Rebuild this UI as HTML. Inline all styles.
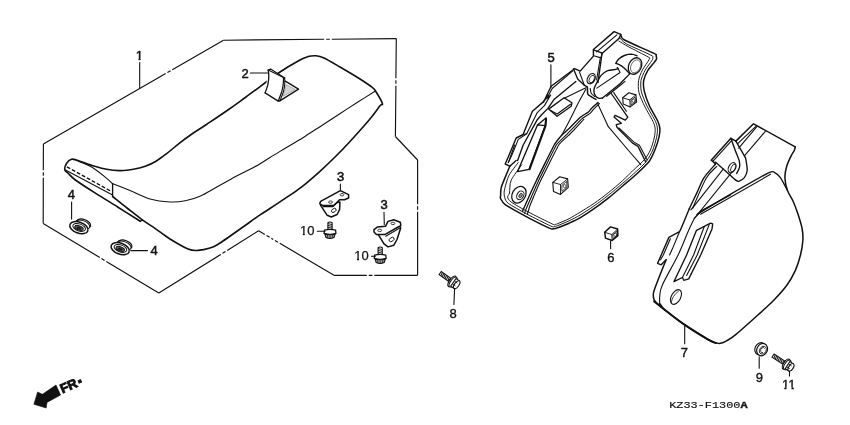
<!DOCTYPE html>
<html><head><meta charset="utf-8"><title>Seat / Side Cover</title>
<style>html,body{margin:0;padding:0;background:#fff;}svg{display:block;will-change:transform}</style>
</head><body>
<svg width="850" height="425" viewBox="0 0 850 425">
<rect width="850" height="425" fill="#fff"/>
<path d="M43.4,144.0 L165.7,73.5 M167.4,72.5 L170.6,70.7 M172.3,69.7 L223.5,40.2 " fill="none" stroke="#111" stroke-width="1.15" stroke-linecap="butt"/>
<path d="M223.5,40.2 L324.2,39.3 M326.2,39.2 L329.8,39.2 M331.8,39.2 L396.3,38.6 " fill="none" stroke="#111" stroke-width="1.15" stroke-linecap="butt"/>
<path d="M396.3,38.6 L395.9,78.2 M395.9,80.2 L395.9,83.8 M395.9,85.8 L395.4,136.5 " fill="none" stroke="#111" stroke-width="1.15" stroke-linecap="butt"/>
<path d="M395.4,136.5 L417.6,160.0 " fill="none" stroke="#111" stroke-width="1.15" stroke-linecap="butt"/>
<path d="M417.6,160.0 L417.6,204.2 M417.6,206.2 L417.6,209.8 M417.6,211.8 L417.6,275.3 " fill="none" stroke="#111" stroke-width="1.15" stroke-linecap="butt"/>
<path d="M417.6,275.3 L374.4,275.3 M372.4,275.3 L368.8,275.3 M366.8,275.3 L334.0,275.3 " fill="none" stroke="#111" stroke-width="1.15" stroke-linecap="butt"/>
<path d="M334.0,275.3 L279.8,243.3 M278.1,242.3 L275.0,240.5 M273.2,239.4 L271.3,238.3 M269.6,237.3 L266.5,235.4 M264.8,234.4 L258.6,230.8 " fill="none" stroke="#111" stroke-width="1.15" stroke-linecap="butt"/>
<path d="M258.6,230.8 L227.2,250.4 M225.5,251.4 L222.5,253.3 M220.8,254.4 L158.8,293.0 " fill="none" stroke="#111" stroke-width="1.15" stroke-linecap="butt"/>
<path d="M158.8,293.0 L106.3,261.4 M104.6,260.4 L101.5,258.5 M99.8,257.5 L43.2,223.5 " fill="none" stroke="#111" stroke-width="1.15" stroke-linecap="butt"/>
<path d="M43.2,223.5 L43.3,177.8 M43.3,175.8 L43.3,172.2 M43.3,170.2 L43.4,144.0 " fill="none" stroke="#111" stroke-width="1.15" stroke-linecap="butt"/>
<path d="M112.6,196.5 C115.0,198.4 122.1,204.2 127.0,208.0 C131.9,211.8 137.3,216.2 142.0,219.6 C146.7,223.0 150.3,225.2 155.0,228.4 C159.7,231.6 164.5,235.6 170.0,239.0 C175.5,242.4 183.3,247.1 188.0,249.0 C192.7,250.9 194.3,250.6 198.0,250.4 C201.7,250.2 206.3,249.2 210.0,248.0 C213.7,246.8 213.3,247.3 220.0,243.0 C226.7,238.7 243.1,226.8 250.0,222.0 C256.9,217.2 255.5,218.0 261.2,214.2 C266.9,210.4 277.3,203.7 284.1,199.1 C290.9,194.5 295.9,191.4 301.8,186.8 C307.7,182.2 313.8,176.8 319.4,171.8 C325.0,166.8 330.2,161.9 335.3,156.8 C340.4,151.8 344.4,147.6 350.0,141.5 C355.6,135.4 363.9,126.2 368.9,120.3 C373.9,114.3 377.8,108.6 380.0,105.8 C382.2,103.0 383.1,105.7 382.3,103.2 C381.6,100.7 377.2,93.7 375.5,91.0 C373.8,88.3 374.6,89.2 372.0,87.2 C369.4,85.2 365.3,82.4 360.0,79.0 C354.7,75.6 346.0,70.5 340.0,67.0 C334.0,63.5 328.0,59.9 324.0,58.0 C320.0,56.1 318.7,56.0 316.0,55.8 C313.3,55.6 310.7,55.9 308.0,56.6 C305.3,57.3 304.7,57.4 300.0,60.0 C295.3,62.6 289.0,65.8 280.0,72.0 C271.0,78.2 254.7,90.7 246.0,97.0 C237.3,103.3 234.5,105.4 227.9,110.0 C221.3,114.6 212.6,120.4 206.5,124.5 C200.4,128.6 195.8,131.3 191.2,134.5 C186.6,137.7 183.0,140.4 178.9,143.6 C174.8,146.8 170.5,150.7 166.7,153.6 C162.9,156.5 159.6,159.1 156.0,161.2 C152.4,163.3 148.9,165.0 145.3,166.3 C141.8,167.6 138.8,168.3 134.7,169.0 C130.6,169.7 125.3,170.5 120.6,170.6 C115.9,170.7 111.3,170.2 106.5,169.3 C101.7,168.5 96.8,166.9 92.0,165.5 C87.2,164.1 81.4,161.7 78.0,160.6 C74.6,159.5 73.4,158.7 71.5,159.2 C69.6,159.7 67.6,161.7 66.5,163.5 C65.4,165.3 64.5,168.1 64.8,169.8 C65.1,171.5 66.7,171.9 68.5,173.6 C70.3,175.3 71.0,176.8 75.4,180.0 C79.8,183.2 87.9,188.4 95.0,192.9 C102.1,197.4 110.5,202.5 118.0,207.2 C125.5,211.9 136.6,218.9 140.3,221.2" fill="none" stroke="#111" stroke-width="1.60" stroke-linejoin="round" stroke-linecap="round" />
<path d="M140.3,221.2 L142.6,220.2" fill="none" stroke="#111" stroke-width="1.20" stroke-linejoin="round" stroke-linecap="round" />
<path d="M375.5,91.0 C372.6,92.8 364.1,98.1 358.3,101.8 C352.5,105.5 346.5,109.4 340.6,113.2 C334.7,117.0 328.9,120.9 323.0,124.7 C317.1,128.5 311.2,132.5 305.3,136.2 C299.4,139.9 293.6,143.2 287.7,146.8 C281.8,150.4 275.0,154.4 270.0,157.5 C265.0,160.6 261.6,162.9 257.7,165.2 C253.8,167.4 250.9,168.7 246.5,171.0 C242.1,173.3 236.3,176.2 231.2,179.0 C226.1,181.8 221.0,184.7 215.9,187.5 C210.8,190.3 205.7,193.7 200.6,195.9 C195.5,198.1 190.4,199.8 185.3,200.8 C180.2,201.8 175.9,202.3 170.0,202.0 C164.1,201.7 156.7,200.9 150.0,199.0 C143.3,197.1 136.2,193.0 130.0,190.5 C123.8,188.0 115.7,184.9 112.8,183.8" fill="none" stroke="#111" stroke-width="1.10" stroke-linejoin="round" stroke-linecap="round" />
<path d="M78.2,161.2 C80.6,162.2 87.6,164.7 92.4,167.5 C97.1,170.4 103.1,175.4 106.5,178.1 C109.9,180.9 111.8,183.1 112.8,184.0" fill="none" stroke="#111" stroke-width="1.10" stroke-linejoin="round" stroke-linecap="round" />
<path d="M112.6,183.6 L112.6,196.5" fill="none" stroke="#111" stroke-width="1.35" stroke-linejoin="round" stroke-linecap="round" />
<path d="M66.9,166.8 L111.4,191.5" fill="none" stroke="#111" stroke-width="1.35" stroke-linejoin="round" stroke-dasharray="3.8 1.9" stroke-linecap="butt"/>
<path d="M65.5,170.1 L112.1,194.8" fill="none" stroke="#111" stroke-width="1.10" stroke-linejoin="round" stroke-linecap="round" />
<path d="M268.2,70.1 L270.6,69.1 L284.7,77.9 L285.3,81.1 L298.5,89.1 L279.4,101.1 L265.1,92.9 Z" fill="#fff" stroke="none"/>
<path d="M268.2,70.1 C268.3,71.1 268.9,73.8 268.8,76.2 C268.8,78.6 268.5,81.6 267.9,84.4 C267.3,87.2 265.5,91.5 265.1,92.9" fill="none" stroke="#111" stroke-width="1.30" stroke-linejoin="round" stroke-linecap="round" />
<path d="M265.1,92.9 L278.2,101.1" fill="none" stroke="#111" stroke-width="1.30" stroke-linejoin="round" stroke-linecap="round" />
<path d="M268.2,70.1 L270.6,69.1 L284.7,77.9" fill="none" stroke="#111" stroke-width="1.20" stroke-linejoin="round" stroke-linecap="round" />
<path d="M268.2,70.1 L283.5,77.6" fill="none" stroke="#111" stroke-width="1.10" stroke-linejoin="round" stroke-linecap="round" />
<path d="M283.5,77.6 C283.5,78.7 283.5,82.1 283.2,84.4 C282.9,86.7 282.6,88.7 281.8,91.5 C280.9,94.3 278.8,99.5 278.2,101.1" fill="none" stroke="#111" stroke-width="1.20" stroke-linejoin="round" stroke-linecap="round" />
<path d="M284.7,77.9 C284.7,79.0 284.9,82.2 284.7,84.4 C284.5,86.7 284.3,88.8 283.5,91.5 C282.7,94.2 280.6,99.1 280.0,100.6" fill="none" stroke="#111" stroke-width="1.10" stroke-linejoin="round" stroke-linecap="round" />
<path d="M285.3,81.1 L298.5,89.1 L279.4,101.1" fill="none" stroke="#111" stroke-width="1.35" stroke-linejoin="round" stroke-linecap="round" />
<path d="M286.2,84.6 L295.3,89.4 L283.2,96.2 Z" fill="#d4d4d4" stroke="#777" stroke-width="0.5"/>
<text x="245.2" y="77.6" font-size="13" font-weight="normal" text-anchor="middle" font-family='"Liberation Sans", sans-serif' fill="#111" stroke="#111" stroke-width="0.45">2</text>
<path d="M250.3,73.0 L267.6,73.0" fill="none" stroke="#111" stroke-width="1.10" stroke-linejoin="round" stroke-linecap="round" />
<clipPath id="k1"><rect x="134.68" y="47.00" width="9.23" height="11.03"/><rect x="138.48" y="57.73" width="2.07" height="2.88"/></clipPath>
<text x="139.3" y="60.0" font-size="13" font-weight="normal" text-anchor="middle" font-family='"Liberation Sans", sans-serif' fill="#111" stroke="#111" stroke-width="0.45" clip-path="url(#k1)">1</text>
<path d="M139.7,62.5 L139.7,88.0" fill="none" stroke="#111" stroke-width="1.10" stroke-linejoin="round" stroke-linecap="round" />
<g transform="translate(79.9,226.0) rotate(20)" fill="#fff" stroke="#111"><ellipse cx="2.6" cy="-3.6" rx="7.4" ry="4.0" stroke-width="1.3"/><ellipse cx="2.0" cy="-2.0" rx="7.6" ry="4.2" stroke-width="1.0"/><ellipse cx="-0.4" cy="1.9" rx="9.5" ry="5.5" stroke-width="1.5"/><ellipse cx="-0.2" cy="1.6" rx="6.6" ry="3.5" stroke-width="1.0"/><ellipse cx="-0.2" cy="2.1" rx="4.4" ry="2.1" stroke-width="1.0" fill="#666"/><ellipse cx="-0.2" cy="2.4" rx="2.2" ry="0.9" stroke-width="0.8" fill="#222"/></g>
<g transform="translate(121.2,247.0) rotate(20)" fill="#fff" stroke="#111"><ellipse cx="2.6" cy="-3.6" rx="7.4" ry="4.0" stroke-width="1.3"/><ellipse cx="2.0" cy="-2.0" rx="7.6" ry="4.2" stroke-width="1.0"/><ellipse cx="-0.4" cy="1.9" rx="9.5" ry="5.5" stroke-width="1.5"/><ellipse cx="-0.2" cy="1.6" rx="6.6" ry="3.5" stroke-width="1.0"/><ellipse cx="-0.2" cy="2.1" rx="4.4" ry="2.1" stroke-width="1.0" fill="#666"/><ellipse cx="-0.2" cy="2.4" rx="2.2" ry="0.9" stroke-width="0.8" fill="#222"/></g>
<text x="71.4" y="198.6" font-size="13" font-weight="normal" text-anchor="middle" font-family='"Liberation Sans", sans-serif' fill="#111" stroke="#111" stroke-width="0.45">4</text>
<path d="M71.6,202.0 L71.6,219.0" fill="none" stroke="#111" stroke-width="1.10" stroke-linejoin="round" stroke-linecap="round" />
<text x="154.0" y="254.8" font-size="13" font-weight="normal" text-anchor="middle" font-family='"Liberation Sans", sans-serif' fill="#111" stroke="#111" stroke-width="0.45">4</text>
<path d="M130.8,250.6 L147.5,250.6" fill="none" stroke="#111" stroke-width="1.10" stroke-linejoin="round" stroke-linecap="round" />
<path d="M320.6,205.4 L327.2,215.3 L331.3,217.0 L337.1,214.5 L339.6,209.6 L339.9,202.1 Z" fill="#fff" stroke="#111" stroke-width="1.50" stroke-linejoin="round" stroke-linecap="round" />
<path d="M340.4,190.6 L348.6,194.7 L348.6,198.0 L344.5,199.7 L339.6,199.7 L336.3,203.0 L333.8,205.4 L322.3,205.4 L319.8,203.8 L320.6,201.3 Z" fill="#fff" stroke="#111" stroke-width="1.50" stroke-linejoin="round" stroke-linecap="round" />
<path d="M323.1,206.6 L333.0,206.6 L338.2,201.6" fill="none" stroke="#111" stroke-width="1.10" stroke-linejoin="round" stroke-linecap="round" />
<ellipse cx="342.0" cy="194.7" rx="1.9" ry="1.2" fill="#fff" stroke="#111" stroke-width="0.8"/>
<ellipse cx="330.5" cy="202.1" rx="1.9" ry="1.2" fill="#fff" stroke="#111" stroke-width="0.8"/>
<ellipse cx="333.8" cy="210.4" rx="2.6" ry="1.7" transform="rotate(-35 333.8 210.4)" fill="#fff" stroke="#111" stroke-width="0.9"/>
<text x="340.6" y="180.7" font-size="13" font-weight="normal" text-anchor="middle" font-family='"Liberation Sans", sans-serif' fill="#111" stroke="#111" stroke-width="0.55">3</text>
<path d="M340.4,184.0 L340.4,190.6" fill="none" stroke="#111" stroke-width="1.10" stroke-linejoin="round" stroke-linecap="round" />
<path d="M378.1,234.2 L383.8,243.6 L388.0,246.9 L393.7,245.3 L397.0,239.5 L400.7,228.0 L399.5,225.5 Z" fill="#fff" stroke="#111" stroke-width="1.50" stroke-linejoin="round" stroke-linecap="round" />
<path d="M388.0,221.4 L393.7,219.7 L400.3,222.2 L400.8,225.5 L384.7,234.6 L376.4,234.6 L374.0,232.1 L374.0,229.6 L377.3,227.1 L385.5,226.3 Z" fill="#fff" stroke="#111" stroke-width="1.50" stroke-linejoin="round" stroke-linecap="round" />
<path d="M385.7,236.2 L399.8,228.0" fill="none" stroke="#111" stroke-width="1.10" stroke-linejoin="round" stroke-linecap="round" />
<ellipse cx="379.7" cy="230.4" rx="2.0" ry="1.2" fill="#fff" stroke="#111" stroke-width="0.8"/>
<ellipse cx="392.9" cy="223.4" rx="2.0" ry="1.2" fill="#fff" stroke="#111" stroke-width="0.8"/>
<ellipse cx="391.6" cy="239.5" rx="2.8" ry="1.8" transform="rotate(-35 391.6 239.5)" fill="#fff" stroke="#111" stroke-width="0.9"/>
<text x="384.2" y="209.2" font-size="13" font-weight="normal" text-anchor="middle" font-family='"Liberation Sans", sans-serif' fill="#111" stroke="#111" stroke-width="0.55">3</text>
<path d="M384.0,212.3 L384.3,224.7" fill="none" stroke="#111" stroke-width="1.10" stroke-linejoin="round" stroke-linecap="round" />
<g transform="translate(330.0,221.8)" stroke="#111" fill="#fff"><path d="M-2.1,8.5 L-2.1,1 Q0,-0.6 2.1,1 L2.1,8.5 Z" stroke-width="1.1"/><path d="M-2.1,1.8 L2.1,2.8 M-2.1,3.6 L2.1,4.6 M-2.1,5.4 L2.1,6.4 M-2.1,7.2 L2.1,8.2" stroke-width="0.9"/><path d="M-5.6,8.4 Q0,6.6 5.6,8.4 L5.9,11.6 Q0,13.8 -5.9,11.6 Z" stroke-width="1.3"/><path d="M-5.2,12.0 L-4.0,15.8 Q0,17.6 4.0,15.8 L5.2,12.0 Q0,14.0 -5.2,12.0 Z" stroke-width="1.1" fill="#9a9a9a"/><path d="M-2.6,13.2 L-2.2,16.4 M0,13.6 L0,16.9 M2.6,13.2 L2.2,16.4" stroke-width="0.7"/></g>
<g transform="translate(380.2,246.8)" stroke="#111" fill="#fff"><path d="M-2.1,8.5 L-2.1,1 Q0,-0.6 2.1,1 L2.1,8.5 Z" stroke-width="1.1"/><path d="M-2.1,1.8 L2.1,2.8 M-2.1,3.6 L2.1,4.6 M-2.1,5.4 L2.1,6.4 M-2.1,7.2 L2.1,8.2" stroke-width="0.9"/><path d="M-5.6,8.4 Q0,6.6 5.6,8.4 L5.9,11.6 Q0,13.8 -5.9,11.6 Z" stroke-width="1.3"/><path d="M-5.2,12.0 L-4.0,15.8 Q0,17.6 4.0,15.8 L5.2,12.0 Q0,14.0 -5.2,12.0 Z" stroke-width="1.1" fill="#9a9a9a"/><path d="M-2.6,13.2 L-2.2,16.4 M0,13.6 L0,16.9 M2.6,13.2 L2.2,16.4" stroke-width="0.7"/></g>
<clipPath id="k2"><rect x="298.97" y="222.00" width="16.46" height="11.03"/><rect x="302.77" y="232.72" width="2.07" height="2.88"/><rect x="306.90" y="232.72" width="7.83" height="3.68"/></clipPath>
<text x="307.2" y="235.0" font-size="13" font-weight="normal" text-anchor="middle" font-family='"Liberation Sans", sans-serif' fill="#111" stroke="#111" stroke-width="0.25" clip-path="url(#k2)">10</text>
<path d="M317.3,231.3 L325.0,231.3" fill="none" stroke="#111" stroke-width="1.10" stroke-linejoin="round" stroke-linecap="round" />
<clipPath id="k3"><rect x="353.17" y="247.40" width="16.46" height="11.03"/><rect x="356.97" y="258.12" width="2.07" height="2.88"/><rect x="361.10" y="258.12" width="7.83" height="3.68"/></clipPath>
<text x="361.4" y="260.4" font-size="13" font-weight="normal" text-anchor="middle" font-family='"Liberation Sans", sans-serif' fill="#111" stroke="#111" stroke-width="0.25" clip-path="url(#k3)">10</text>
<path d="M371.5,256.3 L375.4,256.3" fill="none" stroke="#111" stroke-width="1.10" stroke-linejoin="round" stroke-linecap="round" />
<path d="M795.2,146.8 C795.1,147.4 794.9,149.1 794.3,150.5 C793.7,151.9 792.9,152.4 791.6,155.0 C790.3,157.6 787.8,162.5 786.7,166.3 C785.6,170.1 784.8,173.6 784.9,177.6 C785.0,181.6 786.0,186.4 787.4,190.3 C788.8,194.2 791.3,197.2 793.0,201.0 C794.7,204.8 796.1,208.5 797.6,213.0 C799.1,217.5 801.1,223.5 802.0,228.0 C802.9,232.5 803.1,235.5 802.9,240.0 C802.6,244.5 801.8,249.9 800.5,255.0 C799.2,260.1 797.5,265.6 795.3,270.6 C793.0,275.6 790.5,280.1 787.0,285.0 C783.5,289.9 778.9,294.9 774.0,300.0 C769.1,305.1 763.9,309.6 757.6,315.3 C751.3,321.0 741.1,330.2 736.0,334.4 C730.9,338.6 729.6,339.1 727.0,340.6 C724.4,342.1 722.6,343.0 720.5,343.3 C718.4,343.6 716.6,343.2 714.5,342.6 C712.4,342.0 712.7,342.3 707.8,339.4 C702.9,336.5 691.8,329.7 685.2,325.2 C678.6,320.7 672.9,316.1 668.2,312.5 C663.5,308.9 659.4,305.7 657.0,303.5 C654.6,301.3 654.6,300.9 654.0,299.5 C653.4,298.1 653.3,296.4 653.3,294.9 C653.3,293.3 653.2,293.1 654.2,290.2 C655.2,287.3 657.0,282.6 659.0,277.5 C661.0,272.4 664.9,262.8 666.1,259.8" fill="none" stroke="#111" stroke-width="1.50" stroke-linejoin="round" stroke-linecap="round" />
<path d="M735.9,141.1 L753.5,123.8 L795.2,146.8" fill="none" stroke="#111" stroke-width="1.50" stroke-linejoin="round" stroke-linecap="round" />
<path d="M735.9,141.1 L730.9,138.3 L711.2,160.2 L715.4,163.7" fill="none" stroke="#111" stroke-width="1.50" stroke-linejoin="round" stroke-linecap="round" />
<path d="M755.6,126.6 L737.7,143.7" fill="none" stroke="#111" stroke-width="1.10" stroke-linejoin="round" stroke-linecap="round" />
<path d="M731.9,140.4 L713.3,160.9" fill="none" stroke="#111" stroke-width="1.10" stroke-linejoin="round" stroke-linecap="round" />
<path d="M730.9,138.3 C731.6,140.3 733.8,146.4 735.2,150.3 C736.6,154.2 738.7,158.7 739.4,161.6 C740.1,164.5 739.9,165.7 739.4,167.7 C738.9,169.7 737.1,172.4 736.6,173.4" fill="none" stroke="#111" stroke-width="1.35" stroke-linejoin="round" stroke-linecap="round" />
<path d="M715.4,162.1 L735.2,179.7" fill="none" stroke="#111" stroke-width="1.35" stroke-linejoin="round" stroke-linecap="round" />
<path d="M735.2,179.7 C735.8,180.0 737.2,181.6 738.7,181.3 C740.2,180.9 742.9,179.4 744.4,177.6 C745.8,175.8 746.9,173.6 747.2,170.5 C747.4,167.5 746.2,161.7 745.8,159.2 C745.3,156.8 746.0,159.0 744.4,155.9 C742.7,152.9 737.3,143.6 735.9,141.1" fill="none" stroke="#111" stroke-width="1.35" stroke-linejoin="round" stroke-linecap="round" />
<path d="M757.1,126.3 L738.7,148.2" fill="none" stroke="#111" stroke-width="1.10" stroke-linejoin="round" stroke-linecap="round" />
<path d="M765.5,131.2 L744.4,155.9" fill="none" stroke="#111" stroke-width="1.10" stroke-linejoin="round" stroke-linecap="round" />
<ellipse cx="732.1" cy="167.7" rx="3.4" ry="5.4" transform="rotate(28 732.1 167.7)" fill="#fff" stroke="#111" stroke-width="1.1"/>
<ellipse cx="733.2" cy="168.0" rx="2.0" ry="4.2" transform="rotate(28 733.2 168.0)" fill="none" stroke="#111" stroke-width="0.8"/>
<path d="M715.4,164.2 C713.5,166.4 707.2,172.9 704.1,177.6 C701.1,182.3 699.4,187.5 697.1,192.4 C694.7,197.4 691.3,204.6 690.0,207.2 C688.7,209.9 689.5,208.2 689.4,208.4" fill="none" stroke="#111" stroke-width="1.40" stroke-linejoin="round" stroke-linecap="round" />
<path d="M689.4,208.4 L680.9,228.9 L679.5,231.7 L668.9,237.4 L661.2,255.0 L657.6,263.4 L661.2,264.8 L666.1,259.8" fill="none" stroke="#111" stroke-width="1.40" stroke-linejoin="round" stroke-linecap="round" />
<path d="M670.4,238.8 L663.3,255.0 L660.5,259.8" fill="none" stroke="#111" stroke-width="1.10" stroke-linejoin="round" stroke-linecap="round" />
<path d="M716.8,166.3 C715.1,168.3 710.2,171.4 706.2,178.3 C702.2,185.2 695.1,203.0 692.8,207.9" fill="none" stroke="#111" stroke-width="1.10" stroke-linejoin="round" stroke-linecap="round" />
<path d="M723.2,169.1 L692.1,208.6 L694.4,205.6 L690.8,209.8" fill="none" stroke="#111" stroke-width="1.10" stroke-linejoin="round" stroke-linecap="round" />
<path d="M730.9,173.4 L697.1,215.0 L700.7,211.2" fill="none" stroke="#111" stroke-width="1.10" stroke-linejoin="round" stroke-linecap="round" />
<path d="M697.1,214.3 C701.2,211.8 724.0,198.0 732.4,193.1 C740.8,188.3 764.1,175.0 769.1,172.6 C774.0,170.3 773.4,172.1 774.7,172.6 C776.0,173.2 778.9,175.5 780.4,177.6 C781.8,179.6 786.6,188.8 787.4,190.3" fill="none" stroke="#111" stroke-width="1.35" stroke-linejoin="round" stroke-linecap="round" />
<path d="M700.6,214.3 L770.5,174.3" fill="none" stroke="#111" stroke-width="1.10" stroke-linejoin="round" stroke-linecap="round" />
<path d="M730.4,195.0 L700.7,211.2 L694.4,218.3" fill="none" stroke="#111" stroke-width="1.35" stroke-linejoin="round" stroke-linecap="round" />
<path d="M694.4,218.3 C693.3,220.5 690.7,225.6 688.0,231.7 C685.3,237.8 682.4,246.2 678.1,255.0 C673.9,263.8 665.6,277.7 662.6,284.5 C659.5,291.3 660.2,292.4 659.8,295.8 C659.3,299.2 659.8,303.7 659.8,305.0 C659.8,306.3 658.9,302.5 659.8,303.4 C660.6,304.3 663.9,309.2 664.7,310.4" fill="none" stroke="#111" stroke-width="1.10" stroke-linejoin="round" stroke-linecap="round" />
<path d="M679.5,231.7 L672.5,248.6 L669.6,255.0" fill="none" stroke="#111" stroke-width="1.10" stroke-linejoin="round" stroke-linecap="round" />
<path d="M710.6,223.2 L696.5,230.3 L686.6,255.0 L673.9,281.7 L682.4,277.5 L683.8,280.3 L688.7,278.9 L700.7,255.0 L712.0,228.9 L712.7,223.9 Z" fill="none" stroke="#111" stroke-width="1.35" stroke-linejoin="round" stroke-linecap="round" />
<path d="M704.2,226.8 L693.6,255.0 L682.4,277.5" fill="none" stroke="#111" stroke-width="1.10" stroke-linejoin="round" stroke-linecap="round" />
<path d="M709.2,224.6 L697.2,255.0 L686.6,275.4" fill="none" stroke="#111" stroke-width="1.10" stroke-linejoin="round" stroke-linecap="round" />
<ellipse cx="676.0" cy="297.0" rx="4.6" ry="8.0" transform="rotate(28 676.0 297.0)" fill="#fff" stroke="#111" stroke-width="1.1"/>
<path d="M671.3,303.1 Q671.8,296.3 678.8,290.9" fill="none" stroke="#111" stroke-width="0.8"/>
<path d="M654.2,301.4 C656.5,303.2 663.0,308.5 668.2,312.5 C673.4,316.5 678.6,320.7 685.2,325.2 C691.8,329.7 702.7,336.4 707.8,339.4 C712.9,342.4 714.6,342.4 716.0,343.0" fill="none" stroke="#111" stroke-width="2.00" stroke-linejoin="round" stroke-linecap="round" />
<text x="684.4" y="357.4" font-size="13" font-weight="normal" text-anchor="middle" font-family='"Liberation Sans", sans-serif' fill="#111" stroke="#111" stroke-width="0.35">7</text>
<path d="M684.7,326.0 L684.7,343.8" fill="none" stroke="#111" stroke-width="1.10" stroke-linejoin="round" stroke-linecap="round" />
<path d="M619.2,38.2 L620.7,34.4 L614.1,31.6 L593.4,49.5 L593.4,56.1 L580.2,71.1 L574.6,68.7 L551.1,86.2 L543.5,102.2 L547.9,95.0 L543.0,102.1 L532.4,111.2 L523.9,132.4 L523.2,134.5 L516.2,138.0 L509.1,155.0 L505.2,164.0 L509.8,166.2 L516.1,160.5" fill="none" stroke="#111" stroke-width="1.40" stroke-linejoin="round" stroke-linecap="round" />
<path d="M616.9,34.8 L596.6,51.9" fill="none" stroke="#111" stroke-width="1.10" stroke-linejoin="round" stroke-linecap="round" />
<path d="M619.2,38.2 L602.3,53.2 L593.4,49.8" fill="none" stroke="#111" stroke-width="1.35" stroke-linejoin="round" stroke-linecap="round" />
<path d="M602.3,53.2 L600.9,57.9 L593.8,55.7" fill="none" stroke="#111" stroke-width="1.10" stroke-linejoin="round" stroke-linecap="round" />
<path d="M602.0,53.2 L598.0,82.5" fill="none" stroke="#111" stroke-width="1.40" stroke-linejoin="round" stroke-linecap="round" />
<path d="M600.2,58.5 L596.6,80.0" fill="none" stroke="#111" stroke-width="1.10" stroke-linejoin="round" stroke-linecap="round" />
<path d="M572.5,71.1 L552.2,88.5 L546.6,98.9 L550.7,95.0 L544.4,105.6 L537.3,112.6 L526.7,133.8 L518.3,139.4 L511.9,155.0 L508.3,162.6" fill="none" stroke="#111" stroke-width="1.10" stroke-linejoin="round" stroke-linecap="round" />
<path d="M523.2,134.5 L526.7,133.8" fill="none" stroke="#111" stroke-width="1.10" stroke-linejoin="round" stroke-linecap="round" />
<path d="M575.8,81.5 L554.3,99.2 L547.9,108.4 L541.6,114.8 L537.3,119.7 L523.2,145.0 L517.6,160.5" fill="none" stroke="#111" stroke-width="1.35" stroke-linejoin="round" stroke-linecap="round" />
<path d="M573.4,68.8 L577.7,79.1 L584.3,85.2 L587.2,86.8" fill="none" stroke="#111" stroke-width="1.35" stroke-linejoin="round" stroke-linecap="round" />
<path d="M579.5,72.1 L584.3,85.2" fill="none" stroke="#111" stroke-width="1.10" stroke-linejoin="round" stroke-linecap="round" />
<path d="M620.7,34.4 C621.2,35.2 620.1,37.5 624.5,40.0 C628.9,42.5 649.4,51.1 653.6,53.2 C657.9,55.3 655.8,54.9 656.1,55.8 C656.4,56.7 657.2,57.9 656.1,59.8 C655.0,61.7 649.7,67.4 648.0,70.1 C646.3,72.9 644.2,77.7 643.7,80.5 C643.2,83.2 643.5,87.5 644.2,90.8 C645.0,94.2 647.5,101.5 649.3,105.5 C651.1,109.5 656.3,118.0 657.7,121.0 C659.1,124.1 659.7,126.0 659.8,128.1 C660.0,130.2 659.8,133.6 659.1,136.6 C658.5,139.5 656.2,146.7 654.9,150.0 C653.6,153.2 651.7,157.9 649.3,161.2 C646.8,164.4 640.0,170.8 636.4,174.2 C632.8,177.5 626.1,183.0 622.3,186.2 C618.6,189.4 612.0,195.1 608.2,198.2 C604.5,201.2 597.9,206.1 594.1,208.7 C590.3,211.4 583.3,216.0 580.0,217.9 C576.7,219.8 572.0,221.9 569.1,223.2 C566.1,224.5 559.8,227.1 557.8,227.8 C555.7,228.6 554.7,228.8 553.5,228.8 C552.4,228.9 553.1,229.8 549.3,228.1 C545.5,226.4 531.1,219.2 525.3,216.1 C519.5,213.0 508.8,207.2 505.5,204.8 C502.2,202.5 501.2,199.7 500.6,198.5 C499.9,197.3 500.5,197.3 500.6,195.8 C500.7,194.3 500.4,190.3 501.3,187.3 C502.1,184.3 505.8,176.0 506.9,173.2 C508.1,170.4 509.4,167.1 509.8,166.2" fill="none" stroke="#111" stroke-width="1.50" stroke-linejoin="round" stroke-linecap="round" />
<path d="M619.8,37.8 C620.6,38.6 622.2,41.5 626.4,43.8 C630.5,46.1 647.3,53.2 650.8,55.1 C654.3,56.9 652.6,56.9 652.7,57.7 C652.8,58.4 652.8,59.0 651.8,60.7 C650.8,62.4 646.6,67.5 645.2,70.1 C643.7,72.8 641.5,77.6 641.0,80.5 C640.5,83.4 640.6,88.3 641.4,91.8 C642.2,95.2 645.2,102.2 647.1,106.2 C649.0,110.2 654.2,118.7 655.6,121.7 C657.0,124.8 657.3,126.7 657.4,128.8 C657.6,130.9 657.2,134.4 656.6,137.3 C656.0,140.1 654.1,146.8 652.8,150.0 C651.4,153.2 648.6,158.3 646.4,161.2 C644.3,164.0 639.7,168.4 636.4,171.3 C633.2,174.3 626.1,180.4 622.3,183.6 C618.6,186.8 612.0,192.4 608.2,195.3 C604.5,198.3 597.9,203.3 594.1,205.9 C590.3,208.6 583.3,213.1 580.0,215.1 C576.7,217.1 572.0,219.4 569.1,220.8 C566.1,222.2 559.7,224.8 557.8,225.6 C555.8,226.3 555.2,226.5 554.2,226.6 C553.3,226.6 554.4,227.7 550.7,226.0 C547.0,224.3 532.4,217.0 526.7,214.0 C521.1,211.0 511.3,205.6 508.4,203.4 C505.4,201.2 505.4,199.5 504.8,197.8 C504.3,196.0 503.8,193.1 504.4,190.1 C505.0,187.2 507.2,179.0 509.0,175.3 C510.9,171.7 517.0,164.3 518.2,162.6" fill="none" stroke="#111" stroke-width="0.95" stroke-linejoin="round" stroke-linecap="round" />
<path d="M618.8,41.0 C620.1,41.7 624.3,44.5 628.2,46.6 C632.1,48.7 645.2,55.3 648.0,56.9 C650.8,58.6 650.1,57.4 649.3,59.2 C648.6,61.0 643.8,67.3 642.4,70.1 C640.9,73.0 639.0,77.5 638.6,80.5 C638.1,83.5 638.1,89.2 639.0,92.7 C639.8,96.2 643.1,103.0 645.0,106.9 C647.0,110.9 652.1,119.4 653.5,122.5 C654.8,125.5 655.1,127.4 655.2,129.5 C655.3,131.6 654.8,135.2 654.2,138.0 C653.6,140.7 651.7,147.1 650.4,150.0 C649.1,152.9 646.5,157.2 644.3,159.8 C642.2,162.3 637.3,166.4 634.3,169.2 C631.4,172.1 625.8,177.8 622.3,180.9 C618.8,184.1 612.0,189.8 608.2,192.8 C604.5,195.8 597.9,200.8 594.1,203.4 C590.3,206.0 583.3,210.2 580.0,212.3 C576.7,214.3 572.0,217.1 569.1,218.7 C566.1,220.2 559.6,222.8 557.8,223.6 C555.9,224.4 555.7,224.4 554.9,224.4 C554.2,224.5 555.7,225.6 552.1,223.9 C548.5,222.2 533.6,214.8 528.1,211.9 C522.7,209.0 513.9,204.0 511.2,202.0 C508.4,200.0 507.9,198.3 507.6,197.1 C507.4,195.9 509.0,195.2 509.5,193.0 C509.9,190.7 509.5,184.0 511.2,180.3 C512.8,176.5 520.3,166.8 521.7,164.8" fill="none" stroke="#111" stroke-width="0.95" stroke-linejoin="round" stroke-linecap="round" />
<path d="M514.7,145.0 L508.3,162.6" fill="none" stroke="#111" stroke-width="1.10" stroke-linejoin="round" stroke-linecap="round" />
<path d="M537.5,124.9 L545.2,125.7 L529.1,169.3 L517.6,171.6 Z" fill="none" stroke="#111" stroke-width="1.35" stroke-linejoin="round" stroke-linecap="round" />
<path d="M537.5,124.9 L545.9,118.1 L545.2,125.7" fill="none" stroke="#111" stroke-width="1.35" stroke-linejoin="round" stroke-linecap="round" />
<path d="M546.1,118.4 L545.6,125.7 L529.5,169.3" fill="none" stroke="#111" stroke-width="2.00" stroke-linejoin="round" stroke-linecap="round" />
<path d="M548.6,109.1 L564.1,97.8 L571.9,102.8 L571.2,106.3 L557.1,116.2 Z" fill="none" stroke="#111" stroke-width="1.35" stroke-linejoin="round" stroke-linecap="round" />
<path d="M550.7,110.5 L557.1,114.0 L570.5,104.2" fill="none" stroke="#111" stroke-width="1.10" stroke-linejoin="round" stroke-linecap="round" />
<path d="M585.9,87.7 L564.8,97.9" fill="none" stroke="#111" stroke-width="1.10" stroke-linejoin="round" stroke-linecap="round" />
<ellipse cx="591.2" cy="78.7" rx="3.6" ry="5.5" transform="rotate(28 591.2 78.7)" fill="#fff" stroke="#111" stroke-width="1.2"/>
<ellipse cx="591.8" cy="79.0" rx="2.3" ry="4.0" transform="rotate(28 591.8 79.0)" fill="#fff" stroke="#111" stroke-width="0.8"/>
<path d="M637.1,55.8 C636.1,55.5 633.6,54.2 631.4,54.1 C629.3,54.1 626.5,54.7 624.4,55.5 C622.3,56.3 620.1,57.8 618.7,59.0 C617.3,60.3 616.4,62.6 615.9,63.3" fill="none" stroke="#111" stroke-width="1.35" stroke-linejoin="round" stroke-linecap="round" />
<path d="M615.9,63.3 C616.6,63.6 618.7,64.3 620.1,65.1 C621.6,65.9 622.8,66.8 624.4,68.2 C626.0,69.7 628.9,72.9 629.7,73.9" fill="none" stroke="#111" stroke-width="1.35" stroke-linejoin="round" stroke-linecap="round" />
<ellipse cx="635.0" cy="66.0" rx="6.3" ry="8.6" transform="rotate(26 635.0 66.0)" fill="#fff" stroke="#111" stroke-width="1.3"/>
<ellipse cx="635.6" cy="66.3" rx="4.6" ry="6.8" transform="rotate(26 635.6 66.3)" fill="#fff" stroke="#555" stroke-width="0.8"/>
<path d="M617.3,67.5 C617.3,67.7 618.4,68.8 617.1,69.2 C615.8,69.7 609.8,69.8 607.7,70.6 C605.5,71.5 602.5,73.9 601.1,75.4 C599.7,76.9 598.2,80.3 597.3,81.9 C596.4,83.6 594.9,86.2 594.5,87.6 C594.0,89.0 593.8,91.1 594.0,92.3 C594.2,93.5 595.2,95.7 595.9,96.5 C596.6,97.4 598.3,98.2 599.2,98.4 C600.1,98.6 602.0,98.0 602.5,98.0" fill="none" stroke="#111" stroke-width="1.35" stroke-linejoin="round" stroke-linecap="round" />
<path d="M602.5,98.0 L620.0,83.8 L629.7,73.9" fill="none" stroke="#111" stroke-width="1.35" stroke-linejoin="round" stroke-linecap="round" />
<path d="M596.8,88.1 L620.0,72.5 L618.0,68.2" fill="none" stroke="#111" stroke-width="1.10" stroke-linejoin="round" stroke-linecap="round" />
<path d="M606.7,96.3 L620.0,85.5 L625.0,81.3" fill="none" stroke="#111" stroke-width="1.10" stroke-linejoin="round" stroke-linecap="round" />
<path d="M587.4,87.1 C587.5,88.1 587.3,92.9 587.9,94.2 C588.5,95.5 590.6,96.3 591.7,97.0 C592.7,97.7 595.3,99.1 595.9,99.4" fill="none" stroke="#111" stroke-width="1.50" stroke-linejoin="round" stroke-linecap="round" />
<path d="M590.2,88.5 C590.4,89.2 590.6,92.2 591.2,93.2 C591.8,94.3 594.2,96.1 594.7,96.5" fill="none" stroke="#111" stroke-width="1.10" stroke-linejoin="round" stroke-linecap="round" />
<path d="M597.9,102.5 C597.6,102.8 592.0,107.7 591.6,108.2 C591.1,108.6 589.3,111.2 588.7,111.7 C588.2,112.1 581.2,116.6 580.3,117.3 C579.4,118.1 571.3,126.3 570.4,127.2 C569.5,128.1 562.7,134.1 561.9,135.0 C561.1,135.9 555.5,142.7 554.2,145.0 C552.9,147.3 538.0,177.3 536.6,180.3 C535.1,183.3 526.0,203.4 525.3,205.0 C524.6,206.5 522.6,210.9 522.5,211.2" fill="none" stroke="#111" stroke-width="1.40" stroke-linejoin="round" stroke-linecap="round" />
<path d="M599.3,103.5 C599.0,103.8 594.1,108.7 593.7,109.1 C593.2,109.6 591.0,112.6 590.4,113.1 C589.8,113.6 582.9,118.0 582.0,118.7 C581.1,119.5 573.3,127.8 572.5,128.6 C571.7,129.4 567.0,134.1 566.2,135.0 C565.4,135.8 557.7,142.7 556.3,145.0 C554.9,147.3 540.1,177.3 538.7,180.3 C537.3,183.3 528.5,203.3 527.8,205.0 C527.1,206.6 524.7,212.9 524.6,213.3" fill="none" stroke="#111" stroke-width="1.10" stroke-linejoin="round" stroke-linecap="round" />
<path d="M583.8,119.4 C583.3,119.9 575.4,128.5 574.6,129.3 C573.9,130.1 569.8,134.2 569.0,135.0 C568.2,135.7 560.1,142.7 558.7,145.0 C557.3,147.3 542.2,177.3 540.8,180.3 C539.4,183.3 530.9,203.3 530.2,205.0 C529.5,206.7 527.6,213.5 527.4,214.0" fill="none" stroke="#111" stroke-width="1.10" stroke-linejoin="round" stroke-linecap="round" />
<path d="M585.9,89.1 C585.2,90.4 580.4,98.8 578.9,101.8 C577.3,104.8 572.1,115.4 570.4,118.7 C568.7,122.1 562.8,133.3 561.9,135.0" fill="none" stroke="#111" stroke-width="1.10" stroke-linejoin="round" stroke-linecap="round" />
<path d="M597.9,102.5 L598.5,105.5 L608.3,126.7 L628.1,150.0 L640.8,164.7" fill="none" stroke="#111" stroke-width="1.10" stroke-linejoin="round" stroke-linecap="round" />
<path d="M611.3,93.3 L611.2,93.5 L627.8,117.1 L625.3,120.2 L615.1,115.4 L614.0,117.1 L621.3,123.3 L616.2,124.7 L617.1,127.5 L632.3,142.9 L638.0,146.4 L645.7,161.9" fill="none" stroke="#111" stroke-width="1.30" stroke-linejoin="round" stroke-linecap="round" />
<path d="M613.9,92.2 L614.0,93.1 L626.4,111.2" fill="none" stroke="#111" stroke-width="1.10" stroke-linejoin="round" stroke-linecap="round" />
<path d="M618.9,127.8 L633.7,141.9 L639.4,145.3 L647.1,159.8" fill="none" stroke="#111" stroke-width="1.10" stroke-linejoin="round" stroke-linecap="round" />
<ellipse cx="518.9" cy="194.7" rx="6.6" ry="8.8" transform="rotate(30 518.9 194.7)" fill="#fff" stroke="#111" stroke-width="1.3"/>
<ellipse cx="520.3" cy="195.3" rx="3.3" ry="4.6" transform="rotate(30 520.3 195.3)" fill="#fff" stroke="#111" stroke-width="1.0"/>
<ellipse cx="520.6" cy="195.5" rx="1.5" ry="2.4" transform="rotate(30 520.6 195.5)" fill="#888" stroke="#111" stroke-width="0.7"/>
<text x="551.0" y="61.7" font-size="13" font-weight="normal" text-anchor="middle" font-family='"Liberation Sans", sans-serif' fill="#111" stroke="#111" stroke-width="0.5">5</text>
<path d="M550.9,64.8 L550.9,87.4" fill="none" stroke="#111" stroke-width="1.10" stroke-linejoin="round" stroke-linecap="round" />
<path d="M622.7,97.8 L628.8,92.8 L635.9,94.9 L636.6,102.0 L630.2,106.9 L623.2,104.1 Z" fill="#fff" stroke="#111" stroke-width="1.10" stroke-linejoin="round" stroke-linecap="round" />
<path d="M622.7,97.8 L629.8,99.9 L635.9,94.9" fill="none" stroke="#111" stroke-width="0.90" stroke-linejoin="round" stroke-linecap="round" />
<path d="M629.8,99.9 L630.2,106.9" fill="none" stroke="#111" stroke-width="0.90" stroke-linejoin="round" stroke-linecap="round" />
<path d="M631.2,100.2 L635.1,97.1 L635.5,101.5 L631.5,104.6 Z" fill="none" stroke="#111" stroke-width="0.80" stroke-linejoin="round" stroke-linecap="round" />
<circle cx="633.4" cy="100.8" r="1.5" fill="none" stroke="#111" stroke-width="0.7"/>
<path d="M552.8,182.4 L559.8,176.7 L567.6,178.9 L568.3,187.3 L560.5,194.4 L553.5,191.6 Z" fill="#fff" stroke="#111" stroke-width="1.10" stroke-linejoin="round" stroke-linecap="round" />
<path d="M552.8,182.4 L560.5,184.5 L567.6,178.9" fill="none" stroke="#111" stroke-width="0.90" stroke-linejoin="round" stroke-linecap="round" />
<path d="M560.5,184.5 L560.5,194.4" fill="none" stroke="#111" stroke-width="0.90" stroke-linejoin="round" stroke-linecap="round" />
<path d="M562.1,185.2 L566.7,181.4 L567.0,186.8 L562.2,191.1 Z" fill="none" stroke="#111" stroke-width="0.80" stroke-linejoin="round" stroke-linecap="round" />
<circle cx="564.6" cy="186.1" r="1.5" fill="none" stroke="#111" stroke-width="0.7"/>
<path d="M604.7,232.3 L610.5,226.9 L617.6,229.0 L617.9,235.6 L612.1,240.5 L605.5,238.1 Z" fill="#fff" stroke="#111" stroke-width="1.50" stroke-linejoin="round" stroke-linecap="round" />
<path d="M604.7,232.3 L611.8,234.5 L617.6,229.0" fill="none" stroke="#111" stroke-width="0.90" stroke-linejoin="round" stroke-linecap="round" />
<path d="M611.8,234.5 L612.1,240.5" fill="none" stroke="#111" stroke-width="0.90" stroke-linejoin="round" stroke-linecap="round" />
<path d="M613.1,234.5 L616.8,231.1 L617.0,235.2 L613.4,238.3 Z" fill="none" stroke="#111" stroke-width="0.80" stroke-linejoin="round" stroke-linecap="round" />
<circle cx="615.2" cy="234.8" r="1.5" fill="none" stroke="#111" stroke-width="0.7"/>
<text x="610.9" y="261.8" font-size="13" font-weight="normal" text-anchor="middle" font-family='"Liberation Sans", sans-serif' fill="#111" stroke="#111" stroke-width="0.35">6</text>
<path d="M610.6,241.0 L610.6,248.8" fill="none" stroke="#111" stroke-width="1.10" stroke-linejoin="round" stroke-linecap="round" />
<g transform="translate(440.2,273.0) rotate(35.2)" stroke="#111" fill="#fff"><rect x="0" y="-1.9" width="11.4" height="3.9" stroke-width="1"/><path d="M1.4,-1.9 L2.2,1.9 M3.1,-1.9 L3.9,1.9 M4.8,-1.9 L5.6,1.9 M6.5,-1.9 L7.3,1.9 M8.2,-1.9 L9.0,1.9 M9.9,-1.9 L10.7,1.9 " stroke-width="1.0"/></g>
<g transform="translate(453.8,282.6) rotate(35.2)" stroke="#111" fill="#fff"><ellipse cx="-2.2" cy="0" rx="2.6" ry="6.2" stroke-width="1.2"/><ellipse cx="-0.8" cy="0" rx="2.6" ry="5.8" stroke-width="1.0"/><path d="M-0.5,-4.6 L3.6,-4.6 L3.6,4.6 L-0.5,4.6 Z" stroke-width="1.1"/><ellipse cx="3.6" cy="0" rx="2.2" ry="4.6" stroke-width="1.1"/><path d="M-0.3,-1.6 L3.2,-1.6 M-0.3,1.8 L3.2,1.8" stroke-width="0.8"/></g>
<text x="453.1" y="317.6" font-size="13" font-weight="normal" text-anchor="middle" font-family='"Liberation Sans", sans-serif' fill="#111" stroke="#111" stroke-width="0.35">8</text>
<path d="M454.6,288.8 L453.9,304.5" fill="none" stroke="#111" stroke-width="1.10" stroke-linejoin="round" stroke-linecap="round" />
<g transform="translate(761.6,349.4) rotate(25) scale(0.93)" stroke="#111" fill="#fff"><ellipse cx="-1.6" cy="0" rx="5.6" ry="6.8" stroke-width="1.2"/><ellipse cx="0.6" cy="0" rx="5.6" ry="6.8" stroke-width="1.3"/><ellipse cx="1.6" cy="0.2" rx="3.4" ry="4.4" stroke-width="0.9"/><path d="M2.6,-2.2 A2.2,2.8 0 1 0 2.8,2.4" fill="none" stroke-width="0.8"/></g>
<text x="759.4" y="381.8" font-size="13" font-weight="normal" text-anchor="middle" font-family='"Liberation Sans", sans-serif' fill="#111" stroke="#111" stroke-width="0.35">9</text>
<path d="M759.2,356.8 L759.2,368.2" fill="none" stroke="#111" stroke-width="1.10" stroke-linejoin="round" stroke-linecap="round" />
<g transform="translate(773.0,355.6) rotate(33.2)" stroke="#111" fill="#fff"><rect x="0" y="-1.9" width="13.1" height="3.8" stroke-width="1"/><path d="M1.4,-1.9 L2.2,1.9 M3.1,-1.9 L3.9,1.9 M4.8,-1.9 L5.6,1.9 M6.5,-1.9 L7.3,1.9 M8.2,-1.9 L9.0,1.9 M9.9,-1.9 L10.7,1.9 M11.6,-1.9 L12.4,1.9 " stroke-width="1.0"/></g>
<g transform="translate(788.0,365.4) rotate(33.2)" stroke="#111" fill="#fff"><ellipse cx="-2.2" cy="0" rx="2.6" ry="5.8" stroke-width="1.2"/><ellipse cx="-0.8" cy="0" rx="2.6" ry="5.4" stroke-width="1.0"/><path d="M-0.5,-4.2 L3.6,-4.2 L3.6,4.2 L-0.5,4.2 Z" stroke-width="1.1"/><ellipse cx="3.6" cy="0" rx="2.2" ry="4.2" stroke-width="1.1"/><path d="M-0.3,-1.6 L3.2,-1.6 M-0.3,1.8 L3.2,1.8" stroke-width="0.8"/></g>
<clipPath id="k4"><rect x="780.57" y="376.30" width="16.46" height="11.03"/><rect x="784.37" y="387.02" width="2.07" height="2.88"/><rect x="791.60" y="387.02" width="2.07" height="2.88"/></clipPath>
<text x="788.8" y="389.3" font-size="13" font-weight="normal" text-anchor="middle" font-family='"Liberation Sans", sans-serif' fill="#111" stroke="#111" stroke-width="0.35" clip-path="url(#k4)">11</text>
<path d="M789.5,371.0 L789.5,376.0" fill="none" stroke="#111" stroke-width="1.10" stroke-linejoin="round" stroke-linecap="round" />
<text transform="translate(669.2,408.3) scale(1,0.84)" font-size="11.9" font-family='"Liberation Mono", monospace' fill="#111" stroke="#111" stroke-width="0.2">KZ33-F1300<tspan font-weight="bold" stroke-width="0.35">A</tspan></text>
<path d="M33.9,404.3 L37.6,392 L42.4,394.3 L56,385 L60.6,395 L47,402.4 L46.2,408 Z" fill="#111" stroke="#111" stroke-width="0.6" stroke-linejoin="round"/>
<text transform="translate(62.6,393.6) rotate(-24)" font-size="13" font-weight="bold" font-family='"Liberation Sans", sans-serif' fill="#111" stroke="#111" stroke-width="0.9">FR<tspan dy="-2.6" dx="0.8" font-size="19">.</tspan></text>
</svg>
</body></html>
